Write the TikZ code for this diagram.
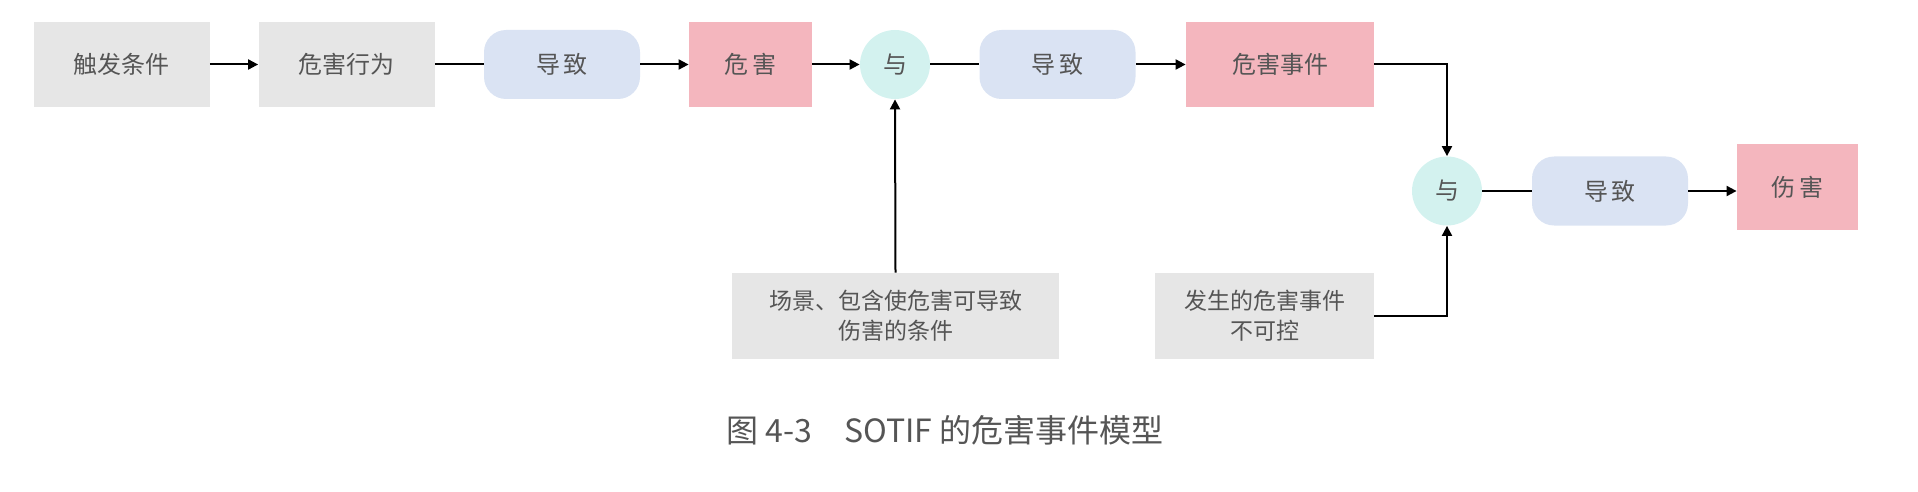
\documentclass[tikz,border=0pt]{standalone}
\usepackage{fontspec}
\setmainfont{Noto Sans CJK SC}
\usetikzlibrary{shapes.geometric,arrows.meta}
\definecolor{gbox}{HTML}{E6E6E6}
\definecolor{bbox}{HTML}{DAE3F3}
\definecolor{pbox}{HTML}{F4B6BE}
\definecolor{cbox}{HTML}{D3F2EF}
\definecolor{txt}{HTML}{555555}
\begin{document}
\begin{tikzpicture}[x=0.5pt,y=-0.5pt,
  base/.style={inner sep=0pt,text=txt,font=\fontsize{12pt}{14pt}\selectfont,align=center},
  gray/.style={base,fill=gbox,minimum width=88pt,minimum height=42.5pt},
  pill/.style={base,fill=bbox,rounded corners=11pt,minimum width=78pt,minimum height=34.5pt},
  pink/.style={base,fill=pbox,minimum height=42.5pt},
  andn/.style={base,ellipse,fill=cbox,minimum width=35pt,minimum height=34.5pt},
  low/.style={base,fill=gbox,minimum height=43pt,font=\fontsize{11.5pt}{15pt}\selectfont},
  ln/.style={line width=1pt,black},
  ar/.style={ln,-{Triangle[length=5pt,width=5pt]}}]
\useasboundingbox (0,0) rectangle (1918,492);
\node[gray] (a) at (121.5,64.5) {触发条件};
\node[gray] (b) at (346.5,64.5) {危害行为};
\node[pill] (c) at (562,64.5) {导\,致};
\node[pink,minimum width=61.5pt] (d) at (750.5,64.5) {危\,害};
\node[andn] (e) at (895,64.5) {与};
\node[pill] (f) at (1057.5,64.5) {导\,致};
\node[pink,minimum width=94pt] (g) at (1280,64.5) {危害事件};
\node[andn] (h) at (1447,191) {与};
\node[pill] (i) at (1610,191) {导\,致};
\node[pink,minimum width=60.5pt] (j) at (1797.5,187) {伤\,害};
\node[low,minimum width=163.5pt] (k) at (895.5,316) {场景、包含使危害可导致\\伤害的条件};
\node[low,minimum width=109.5pt] (l) at (1264.5,316) {发生的危害事件\\不可控};
\node[base,font=\fontsize{16pt}{18pt}\selectfont] (cap) at (945,430) {图 4-3\quad SOTIF 的危害事件模型};
\draw[ar] (a) -- (b);
\draw[ln] (b) -- (c);
\draw[ar] (c) -- (d);
\draw[ar] (d) -- (e);
\draw[ln] (e) -- (f);
\draw[ar] (f) -- (g);
\draw[ar] (g.east) -| (h.north);
\draw[ar] (l.east) -| (h.south);
\draw[ln] (h) -- (i);
\draw[ar] (i) -- (j.west |- i);
\draw[ar] (k.north) -- (e.south);
\end{tikzpicture}
\end{document}
